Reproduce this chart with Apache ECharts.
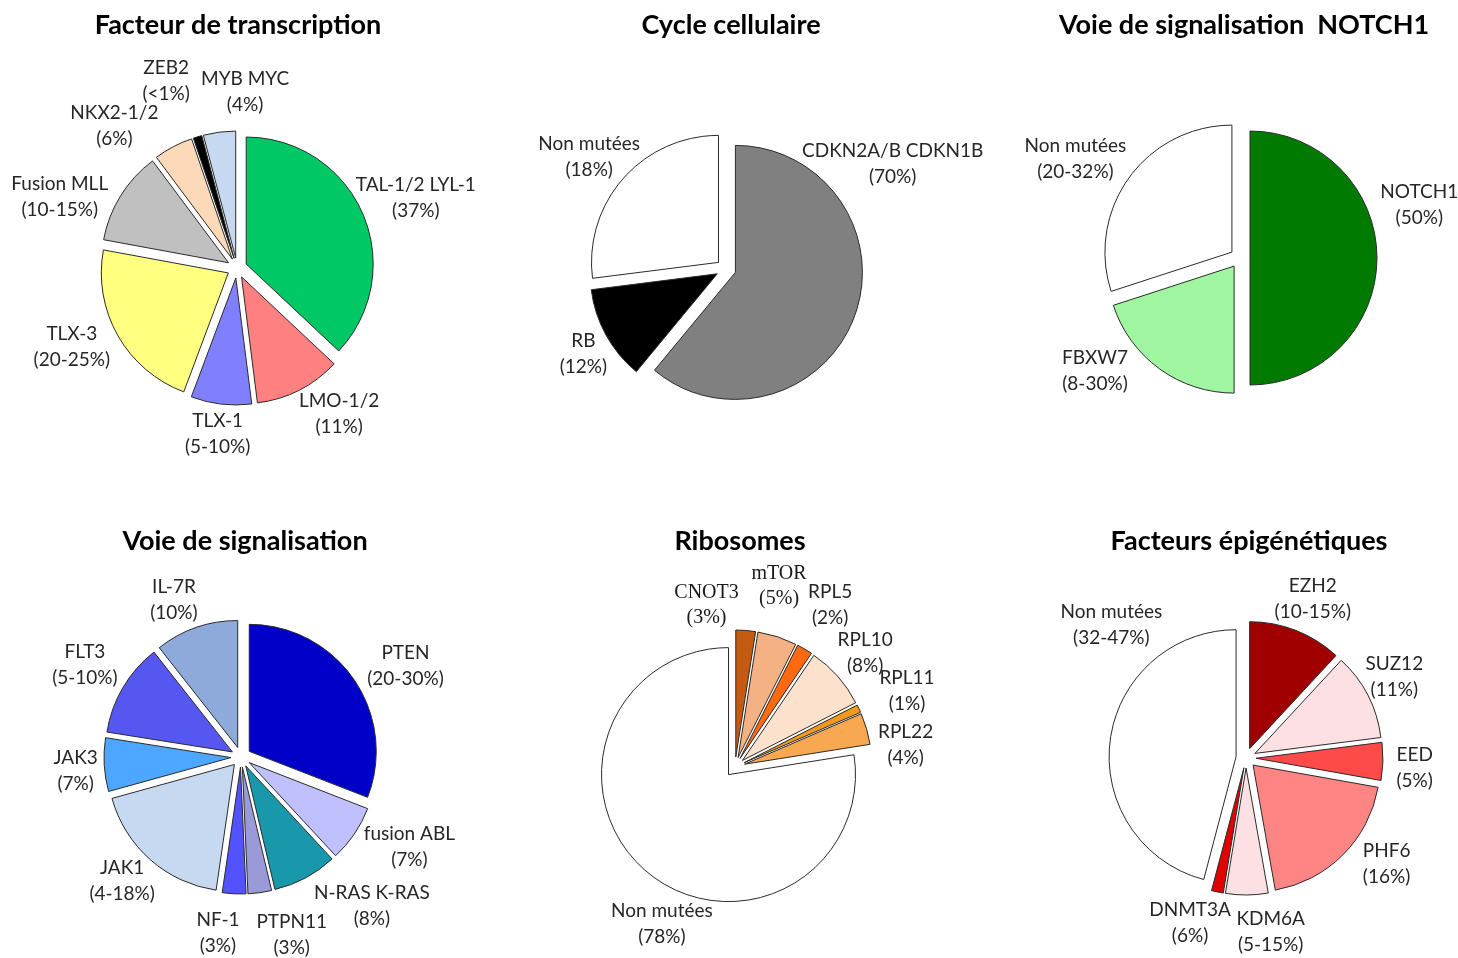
<!DOCTYPE html>
<html>
<head>
<meta charset="utf-8">
<script src="https://cdn.jsdelivr.net/npm/echarts@6/dist/echarts.min.js"></script>
<style>
  html, body { margin: 0; padding: 0; background: #fff; }
  #main { width: 1458px; height: 958px; }
</style>
</head>
<body>
<div id="main"></div>
<script>
var transcriptionNames = ['TAL-1/2 LYL-1', 'LMO-1/2', 'TLX-1', 'TLX-3', 'Fusion MLL', 'NKX2-1/2', 'ZEB2', 'MYB MYC'];
var transcriptionLabels = ['(37%)', '(11%)', '(5-10%)', '(20-25%)', '(10-15%)', '(6%)', '(<1%)', '(4%)'];
var transcriptionValues = [37, 11, 7.7, 22.2, 11.9, 5, 1.1, 4.1];

var cycleNames = ['CDKN2A/B CDKN1B', 'RB', 'Non mutées'];
var cycleLabels = ['(70%)', '(12%)', '(18%)'];
var cycleValues = [61, 12, 27];

var notchNames = ['NOTCH1', 'FBXW7', 'Non mutées'];
var notchLabels = ['(50%)', '(8-30%)', '(20-32%)'];
var notchValues = [50, 20, 30];

var signalNames = ['PTEN', 'fusion ABL', 'N-RAS K-RAS', 'PTPN11', 'NF-1', 'JAK1', 'JAK3', 'FLT3', 'IL-7R'];
var signalLabels = ['(20-30%)', '(7%)', '(8%)', '(3%)', '(3%)', '(4-18%)', '(7%)', '(5-10%)', '(10%)'];
var signalValues = [30.9, 7.2, 8.2, 3, 3, 18.4, 6.8, 11.9, 10.6];

var riboNames = ['CNOT3', 'mTOR', 'RPL5', 'RPL10', 'RPL11', 'RPL22', 'Non mutées'];
var riboLabels = ['(3%)', '(5%)', '(2%)', '(8%)', '(1%)', '(4%)', '(78%)'];
var riboValues = [2.5, 5, 2, 8, 1, 4, 77.5];

var epiNames = ['EZH2', 'SUZ12', 'EED', 'PHF6', 'KDM6A', 'DNMT3A', 'Non mutées'];
var epiLabels = ['(10-15%)', '(11%)', '(5%)', '(16%)', '(5-15%)', '(6%)', '(32-47%)'];
var epiValues = [11.9, 11.1, 4.8, 19.4, 5.4, 1.5, 45.9];

// couleurs des parts
var transcriptionColors = ['#00c864', '#ff8080', '#8080ff', '#ffff80', '#c0c0c0', '#fcd9b8', '#000000', '#c6d9f1'];
var cycleColors = ['#808080', '#000000', '#ffffff'];
var notchColors = ['#007a00', '#a0f5a0', '#ffffff'];
var signalColors = ['#0000c8', '#c0c0ff', '#1a98ab', '#9a9ad8', '#5252ff', '#c6d9f1', '#4da6ff', '#5656f0', '#8eaadb'];
var riboColors = ['#c55a11', '#f4b183', '#ff6a10', '#fce2cc', '#f39a1c', '#f8a850', '#ffffff'];
var epiColors = ['#a00000', '#fde0e3', '#ff4a4a', '#ff8484', '#fde0e3', '#e00000', '#ffffff'];

// placement des étiquettes : décalage d'angle (deg) par rapport au milieu de la part, distance au centre (px)
var transcriptionShift = [2, -8, 0, 4, -10, -13, -4, 10];
var transcriptionDist = [192, 178, 167, 183, 191, 188, 200, 176];
var cycleShift = [-52, -2, -2];
var cycleDist = [197, 166, 177];
var notchShift = [-16.5, 16, -5];
var notchDist = [187, 184, 192];
var signalShift = [5.4, -6, -13.3, -8, 4.6, 2.3, -1.6, 0, -4];
var signalDist = [188, 191, 198, 185, 177, 172, 166, 181, 171];
var riboShift = [-14.5, -4.3, -0.2, 0.2, 1.4, 8.9, -15.5];
var riboDist = [164, 186, 188, 173, 188, 172, 173];
var epiShift = [1.3, -1.5, 1.9, -8, -7.7, 6.7, 37.2];
var epiDist = [173, 169, 169, 176, 176, 174, 189];

var labelFont = 'Lato, "Open Sans", sans-serif';
var serifFont = '"Liberation Serif", "DejaVu Serif", serif';
var serifNames = { 'CNOT3': true, 'mTOR': true };

var pies = [
  { center: [237, 268], names: transcriptionNames, values: transcriptionValues, labels: transcriptionLabels, colors: transcriptionColors, shift: transcriptionShift, dist: transcriptionDist },
  { center: [726, 269], names: cycleNames, values: cycleValues, labels: cycleLabels, colors: cycleColors, shift: cycleShift, dist: cycleDist },
  { center: [1240, 258], names: notchNames, values: notchValues, labels: notchLabels, colors: notchColors, shift: notchShift, dist: notchDist },
  { center: [241, 757], names: signalNames, values: signalValues, labels: signalLabels, colors: signalColors, shift: signalShift, dist: signalDist },
  { center: [735, 767], names: riboNames, values: riboValues, labels: riboLabels, colors: riboColors, shift: riboShift, dist: riboDist },
  { center: [1246, 758], names: epiNames, values: epiValues, labels: epiLabels, colors: epiColors, shift: epiShift, dist: epiDist }
];

function buildData(cfg) {
  return cfg.names.map(function (n, i) {
    return {
      name: n,
      value: cfg.values[i],
      selected: true,
      itemStyle: { color: cfg.colors[i] }
    };
  });
}

// angle du milieu de la part (degrés, sens horaire depuis midi)
function midAngle(cfg, idx) {
  var total = 0, before = 0;
  cfg.values.forEach(function (v, i) {
    total += v;
    if (i < idx) before += v;
  });
  return (before + cfg.values[idx] / 2) / total * 360;
}

function pie(cfg) {
  return {
    type: 'pie',
    center: cfg.center,
    radius: 127,
    startAngle: 90,
    clockwise: true,
    selectedMode: 'multiple',
    selectedOffset: 10,
    emphasis: { disabled: true },
    itemStyle: { borderColor: '#2b2b2b', borderWidth: 1 },
    label: { show: false },
    labelLine: { show: false },
    data: buildData(cfg)
  };
}

// étiquettes à l'extérieur des parts, en suivant l'angle de chaque part
function pieLabels(cfg) {
  return cfg.names.map(function (n, i) {
    var a = (midAngle(cfg, i) + cfg.shift[i]) * Math.PI / 180;
    var d = cfg.dist[i];
    var serif = serifNames[n];
    return {
      type: 'text',
      silent: true,
      x: cfg.center[0] + d * Math.sin(a),
      y: cfg.center[1] - d * Math.cos(a),
      style: {
        text: n + '\n' + cfg.labels[i],
        align: 'center',
        verticalAlign: 'middle',
        fontFamily: serif ? serifFont : labelFont,
        fontSize: serif ? 20 : 19,
        lineHeight: serif ? 25 : 26,
        fill: serif ? '#1a1a1a' : '#262626'
      }
    };
  });
}

var titleStyle = { fontFamily: labelFont, fontWeight: 'bold', fontSize: 27, color: '#000' };
function title(text, x, y) {
  return { text: text, left: x, top: y, textAlign: 'center', textStyle: titleStyle };
}

var labelElements = [];
pies.forEach(function (cfg) {
  labelElements = labelElements.concat(pieLabels(cfg));
});

var myChart = echarts.init(document.getElementById('main'));
var option = {
  animation: false,
  backgroundColor: '#fff',
  title: [
    title('Facteur de transcription', 233, 7),
    title('Cycle cellulaire', 726, 7),
    title('Voie de signalisation  NOTCH1', 1239, 7),
    title('Voie de signalisation', 240, 523),
    title('Ribosomes', 735, 523),
    title('Facteurs épigénétiques', 1244, 523)
  ],
  graphic: { elements: labelElements },
  series: pies.map(pie)
};
myChart.setOption(option);
</script>
</body>
</html>
